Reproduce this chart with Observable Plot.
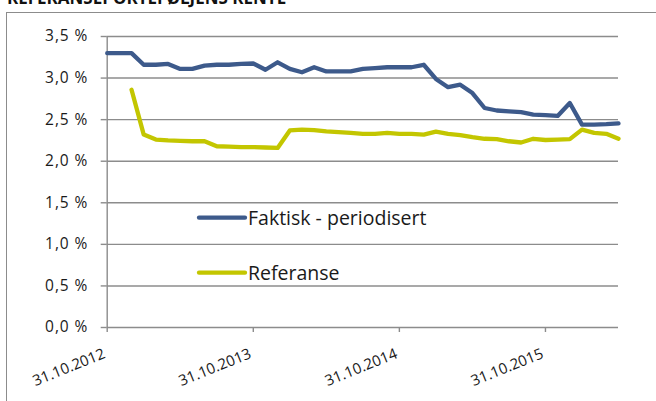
<!DOCTYPE html>
<html>
<head>
<meta charset="utf-8">
<script src="https://cdn.jsdelivr.net/npm/d3@7"></script>
<script src="https://cdn.jsdelivr.net/npm/@observablehq/plot@0.6"></script>
<style>
  html, body { margin: 0; padding: 0; background: #fff; overflow: hidden; }
  #wrap { position: relative; width: 656px; height: 401px; overflow: hidden; font-family: "Open Sans", sans-serif; }
  #title { position: absolute; left: 7px; top: -11px; font-size: 17px; font-weight: bold; line-height: 1; color: #111; white-space: nowrap; }
  #border { position: absolute; left: 6px; top: 12px; width: 700px; height: 500px; border: 1.5px solid #8c8c8c; box-sizing: border-box; }
  #chart { position: absolute; left: 0; top: 0; }
  #legend { position: absolute; left: 0; top: 0; pointer-events: none; }
  .ylab text { letter-spacing: 0.9px; }
</style>
</head>
<body>
<div id="wrap">
  <div id="title">REFERANSEPORTEFØLJENS RENTE</div>
  <div id="border"></div>
  <div id="chart"></div>
  <svg id="legend" width="656" height="401"></svg>
</div>
<script>
// Months (month-end observations), Oct 2012 – Apr 2016
const months = [
  "2012-10","2012-11","2012-12","2013-01","2013-02","2013-03","2013-04","2013-05","2013-06","2013-07","2013-08","2013-09",
  "2013-10","2013-11","2013-12","2014-01","2014-02","2014-03","2014-04","2014-05","2014-06","2014-07","2014-08","2014-09",
  "2014-10","2014-11","2014-12","2015-01","2015-02","2015-03","2015-04","2015-05","2015-06","2015-07","2015-08","2015-09",
  "2015-10","2015-11","2015-12","2016-01","2016-02","2016-03","2016-04"
];
const faktisk = [
  3.30, 3.30, 3.30, 3.16, 3.16, 3.17, 3.11, 3.11, 3.15, 3.16, 3.16, 3.17,
  3.175, 3.10, 3.19, 3.11, 3.07, 3.13, 3.08, 3.08, 3.08, 3.11, 3.12, 3.13,
  3.13, 3.13, 3.16, 2.99, 2.89, 2.92, 2.82, 2.64, 2.61, 2.60, 2.59, 2.56,
  2.555, 2.545, 2.70, 2.44, 2.44, 2.445, 2.455
];
const referanse = [
  null, null, 2.86, 2.32, 2.26, 2.25, 2.245, 2.24, 2.24, 2.18, 2.175, 2.17,
  2.17, 2.165, 2.16, 2.37, 2.38, 2.375, 2.36, 2.35, 2.34, 2.33, 2.33, 2.34,
  2.33, 2.33, 2.32, 2.355, 2.33, 2.315, 2.29, 2.27, 2.265, 2.24, 2.225, 2.27,
  2.255, 2.26, 2.265, 2.38, 2.34, 2.33, 2.27
];
const xTickLabels = ["31.10.2012", "31.10.2013", "31.10.2014", "31.10.2015"];
const xTickMonths = ["2012-10", "2013-10", "2014-10", "2015-10"];
const yTicks = [0, 0.5, 1.0, 1.5, 2.0, 2.5, 3.0, 3.5];
const seriesNames = ["Faktisk - periodisert", "Referanse"];
const colors = ["#3d5a8b", "#c3c600"];

const idx = months.map((m, i) => i);
const rowsF = idx.map(i => ({i, v: faktisk[i]}));
const rowsR = idx.map(i => ({i, v: referanse[i]})).filter(d => d.v != null);
const xTicks = xTickMonths.map(m => months.indexOf(m));
const gray = "#8c8c8c";

const chart = Plot.plot({
  width: 656,
  height: 401,
  marginLeft: 106.7,
  marginRight: 38,
  marginTop: 36,
  marginBottom: 74,
  style: {fontFamily: "Open Sans", fontSize: "15px", background: "transparent", color: "#1a1a1a"},
  x: {type: "linear", domain: [0, months.length - 1], axis: null},
  y: {domain: [0, 3.5], axis: null},
  marks: [
    Plot.ruleY(yTicks, {stroke: gray, strokeWidth: 1.4}),
    Plot.ruleX([0], {stroke: gray, strokeWidth: 1.4}),
    Plot.axisY({ticks: yTicks, label: null, tickSize: 6, tickPadding: 13, stroke: gray, strokeWidth: 1.4, fill: "#1a1a1a",
      tickFormat: d => d.toFixed(1).replace(".", ",") + " %", fontSize: 15.5, className: "ylab"}),
    Plot.axisX({ticks: xTicks, label: null, tickSize: 5, stroke: gray, strokeWidth: 1.4, tickFormat: () => ""}),
    Plot.text(xTicks, {x: d => d, frameAnchor: "bottom", text: (d, i) => xTickLabels[i],
      rotate: -22, textAnchor: "end", lineAnchor: "bottom", dx: -1, dy: 30, fontSize: 15, fill: "#1a1a1a"}),
    Plot.lineY(rowsR, {x: "i", y: "v", stroke: colors[1], strokeWidth: 4.3, strokeLinejoin: "round"}),
    Plot.lineY(rowsF, {x: "i", y: "v", stroke: colors[0], strokeWidth: 4.3, strokeLinejoin: "round"})
  ]
});
document.getElementById("chart").appendChild(chart);

// Legend (inside the plot area)
const legend = d3.select("#legend");
const legendRows = [{y: 217.7}, {y: 272.7}];
seriesNames.forEach((name, k) => {
  const y = legendRows[k].y;
  legend.append("line").attr("x1", 199).attr("x2", 245).attr("y1", y).attr("y2", y)
    .attr("stroke", colors[k]).attr("stroke-width", 4.3).attr("stroke-linecap", "round");
  legend.append("text").attr("x", 248).attr("y", y + 6.8)
    .attr("font-family", "Open Sans").attr("font-size", 19.5).attr("fill", "#1a1a1a").text(name);
});
</script>
</body>
</html>
